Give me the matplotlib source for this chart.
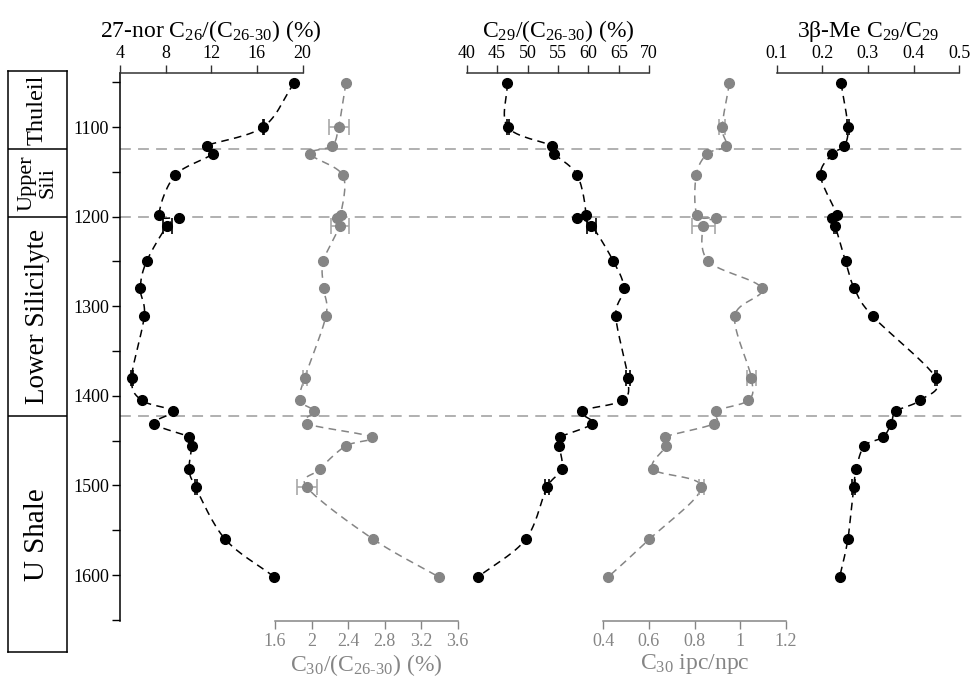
import numpy as np
import matplotlib.pyplot as plt

plt.rcParams['font.family'] = 'Liberation Serif'
plt.rcParams['mathtext.fontset'] = 'custom'
plt.rcParams['mathtext.rm'] = 'Liberation Serif'
plt.rcParams['mathtext.it'] = 'Liberation Serif:italic'
plt.rcParams['mathtext.bf'] = 'Liberation Serif:bold'

# sample depths (m)
depth = [1051, 1100, 1121, 1130, 1154, 1198, 1201, 1210, 1250, 1280, 1311,
         1380, 1405, 1417, 1431, 1446, 1456, 1482, 1502, 1560, 1602]

nor27 = [19.26, 16.55, 11.59, 12.12, 8.82, 7.45, 9.17, 8.15, 6.33, 5.78, 6.13,
         5.02, 5.90, 8.61, 6.98, 10.07, 10.28, 10.07, 10.63, 13.22, 17.51]
c30 = [2.377, 2.297, 2.224, 1.983, 2.344, 2.319, 2.282, 2.311, 2.129, 2.133, 2.158,
       1.925, 1.870, 2.027, 1.947, 2.662, 2.374, 2.089, 1.950, 2.676, 3.392]
c29 = [46.68, 46.74, 54.04, 54.42, 58.2, 59.58, 58.2, 60.5, 64.13, 65.83, 64.51,
       66.49, 65.61, 58.92, 60.67, 55.41, 55.24, 55.63, 53.21, 49.71, 41.91]
ipc = [0.953, 0.921, 0.938, 0.855, 0.807, 0.811, 0.893, 0.839, 0.861, 1.095, 0.976,
       1.049, 1.035, 0.893, 0.887, 0.669, 0.675, 0.619, 0.830, 0.602, 0.422]
me3b = [0.241, 0.256, 0.248, 0.222, 0.196, 0.232, 0.221, 0.228, 0.251, 0.270, 0.310,
        0.449, 0.414, 0.362, 0.351, 0.333, 0.292, 0.274, 0.269, 0.256, 0.238]

# replicate error bars (only some samples)
err_idx = [1, 7, 11, 18]
nor27_err = [0.05, 0.37, 0.08, 0.08]
c30_err = [0.11, 0.10, 0.022, 0.11]
c29_err = [0.17, 0.77, 0.3, 0.36]
ipc_err = [0.012, 0.052, 0.019, 0.011]
me3b_err = [0.003, 0.003, 0.003, 0.003]

unit_names = ['Thuleil', 'Upper\nSili', 'Lower Silicilyte', 'U Shale']
unit_sizes = [17.5, 16, 19.5, 21]
unit_tops = [1037.5, 1125, 1200, 1423]
unit_base = 1686
boundaries = [1125, 1200, 1423]

GRAY = '#858585'
W, H = 973, 690
fig = plt.figure(figsize=(W / 100, H / 100), dpi=100)

ax_top, ax_bot = 73, 621
ylim = (1651.3, 1039.7)


def box(x0, x1, y0=ax_top, y1=ax_bot):
    return [x0 / W, 1 - y1 / H, (x1 - x0) / W, (y1 - y0) / H]


def smooth(x, y, n=16):
    p = np.column_stack([x, y]).astype(float)
    p = np.vstack([2 * p[0] - p[1], p, 2 * p[-1] - p[-2]])
    t = np.linspace(0, 1, n, endpoint=False)[:, None]
    out = []
    for i in range(1, len(p) - 2):
        p0, p1, p2, p3 = p[i - 1], p[i], p[i + 1], p[i + 2]
        out.append(0.5 * (2 * p1 + (-p0 + p2) * t
                          + (2 * p0 - 5 * p1 + 4 * p2 - p3) * t ** 2
                          + (-p0 + 3 * p1 - 3 * p2 + p3) * t ** 3))
    out.append(p[-2][None])
    s = np.vstack(out)
    return s[:, 0], s[:, 1]


# depth axis + boundary lines
bg = fig.add_axes(box(120, 962))
bg.set_ylim(*ylim)
bg.set_xlim(0, 1)
for s in ['top', 'right', 'bottom']:
    bg.spines[s].set_visible(False)
bg.spines['left'].set_linewidth(1.1)
bg.set_xticks([])
bg.set_yticks(range(1100, 1601, 100))
bg.set_yticks(range(1050, 1651, 100), minor=True)
bg.tick_params(axis='y', which='both', direction='out', length=6, width=1, labelsize=13, pad=2)
for b in boundaries:
    bg.axhline(b, color='#aaaaaa', lw=1.3, linestyle=(0, (6, 4)), zorder=0)

# stratigraphic column
col = fig.add_axes(box(8, 67, 71, 652))
col.set_ylim(unit_base, unit_tops[0])
col.set_xlim(0, 1)
col.set_xticks([])
col.set_yticks([])
for s in col.spines.values():
    s.set_linewidth(1.1)
for b in boundaries:
    col.axhline(b, color='k', lw=1.1)
bottoms = unit_tops[1:] + [unit_base]
for name, size, t, b in zip(unit_names, unit_sizes, unit_tops, bottoms):
    col.text(0.5, (t + b) / 2, name, rotation=90, ha='center', va='center',
             fontsize=size, linespacing=1.2)


def panel(x0, values, errs, xlim, ticks, label, color, top):
    ax = fig.add_axes(box(x0, x0 + 182.5))
    ax.patch.set_alpha(0)
    ax.set_ylim(*ylim)
    ax.set_xlim(*xlim)
    ax.set_yticks([])
    for s in ['left', 'right', 'top', 'bottom']:
        ax.spines[s].set_visible(False)
    side = 'top' if top else 'bottom'
    ax.spines[side].set_visible(True)
    ax.spines[side].set_color('#333333' if top else GRAY)
    ax.spines[side].set_linewidth(1.1)
    ax.set_xticks(ticks)
    ax.set_xticklabels(['{:g}'.format(t) for t in ticks])
    if top:
        ax.xaxis.tick_top()
        ax.xaxis.set_label_position('top')
        ax.tick_params(axis='x', direction='out', length=6, width=1, labelsize=13,
                       pad=2, colors='#333333', labelcolor='black')
        ax.set_xlabel(label, fontsize=17, labelpad=6)
    else:
        ax.tick_params(axis='x', direction='out', length=6, width=1, labelsize=13,
                       pad=3, colors=GRAY, labelcolor=GRAY)
        ax.set_xlabel(label, fontsize=17, labelpad=1, color=GRAY)
    sx, sy = smooth(values, depth)
    ax.plot(sx, sy, color=color, lw=1.1, linestyle=(0, (5, 3.5)), clip_on=False)
    ax.plot(values, depth, 'o', color=color, ms=7, clip_on=False, zorder=3)
    ecol = 'black' if color == 'black' else '#a8a8a8'
    ax.errorbar([values[i] for i in err_idx], [depth[i] for i in err_idx],
                xerr=errs, fmt='none', ecolor=ecol, elinewidth=1.2, capsize=6,
                capthick=1.2, clip_on=False, zorder=2)
    return ax


panel(120, nor27, nor27_err, (4, 20), [4, 8, 12, 16, 20],
      r'27-nor C$_{26}$/(C$_{26\text{-}30}$) (%)', 'black', True)
panel(275, c30, c30_err, (1.6, 3.6), [1.6, 2, 2.4, 2.8, 3.2, 3.6],
      r'C$_{30}$/(C$_{26\text{-}30}$) (%)', GRAY, False)
panel(466.7, c29, c29_err, (40, 70), [40, 45, 50, 55, 60, 65, 70],
      r'C$_{29}$/(C$_{26\text{-}30}$) (%)', 'black', True)
panel(603.3, ipc, ipc_err, (0.4, 1.2), [0.4, 0.6, 0.8, 1, 1.2],
      r'C$_{30}$ ipc/npc', GRAY, False)
panel(776.7, me3b, me3b_err, (0.1, 0.5), [0.1, 0.2, 0.3, 0.4, 0.5],
      r'3β-Me C$_{29}$/C$_{29}$', 'black', True)

fig.savefig('out.png', dpi=100)
